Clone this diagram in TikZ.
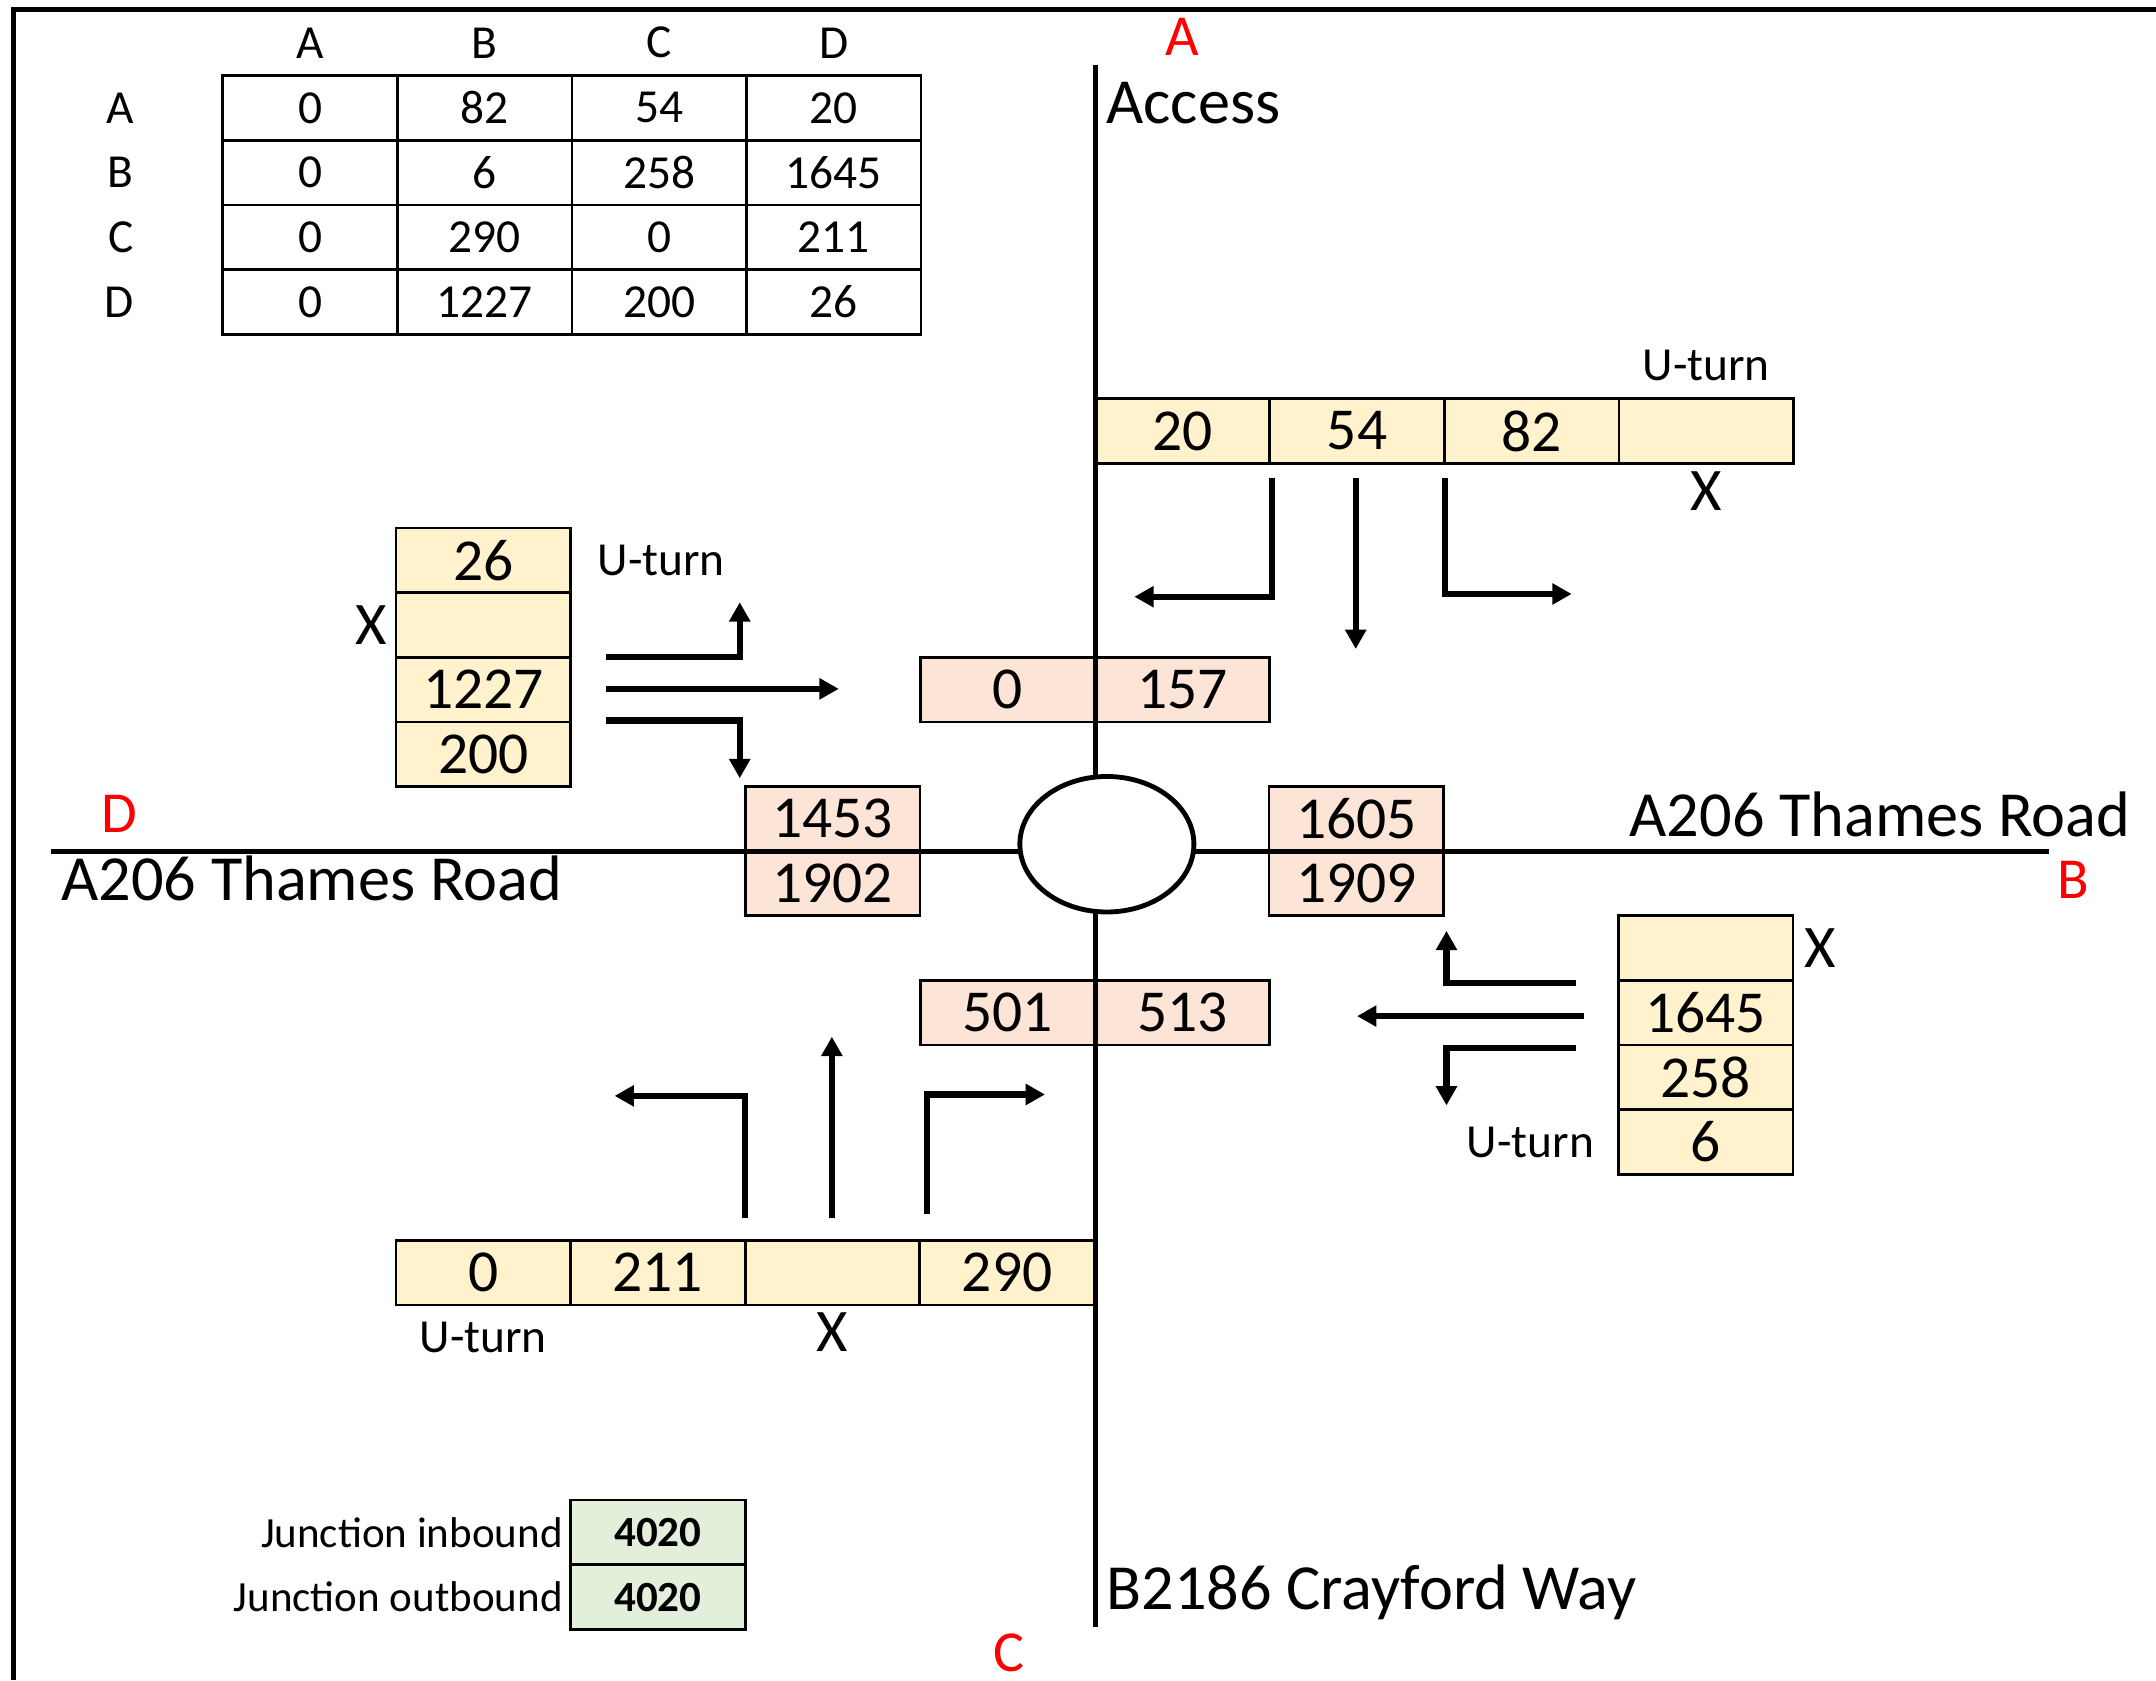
\documentclass[tikz,border=0pt]{standalone}
\usepackage{fontspec}
\setmainfont{Carlito}
\usepackage{xcolor}
\definecolor{inflow}{HTML}{FFF2CC}
\definecolor{outflow}{HTML}{FCE4D6}
\definecolor{totals}{HTML}{E2EFDA}
\definecolor{sitered}{HTML}{FF0000}
\usetikzlibrary{shapes.geometric, arrows.meta, positioning}

\begin{document}
\begin{tikzpicture}[
        x=0.01cm, y=-0.01cm,
        cell/.style={
            rectangle,
            draw=black,
            line width=0.55pt,
            minimum width=1.269cm,
            minimum height=0.47cm,
            inner sep=0pt,
            outer sep=0pt,
            font=\fontsize{9.8}{12}\selectfont
        },
        incell/.style={cell, fill=inflow, font=\fontsize{12.3}{15}\selectfont},
        outcell/.style={cell, fill=outflow, font=\fontsize{12.3}{15}\selectfont},
        totcell/.style={cell, fill=totals, font=\fontsize{8.9}{11}\selectfont\bfseries},
        note/.style={inner sep=0pt, font=\fontsize{9.8}{12}\selectfont},
        smallnote/.style={inner sep=0pt, font=\fontsize{8.9}{11}\selectfont},
        banned/.style={inner sep=0pt, font=\fontsize{12.5}{15}\selectfont},
        roadname/.style={inner sep=0pt, font=\fontsize{13.3}{16}\selectfont},
        sitename/.style={inner sep=0pt, text=sitered, font=\fontsize{12}{14}\selectfont},
        road/.style={line width=1pt},
        flow/.style={
            -{Triangle[length=4pt, width=4.2pt]},
            line width=1.25pt
        },
        roundabout/.style={
            ellipse,
            draw=black,
            fill=white,
            line width=1pt,
            inner sep=0pt,
            minimum width=1.265cm,
            minimum height=0.985cm
        }
    ]
    \useasboundingbox (0,0) rectangle (1568,1222);

    % Sheet edge
    \draw[line width=1.1pt] (10,1222) -- (10,7) -- (1568,7);

    % O-D table
    \node[cell] (tAA) at (225.5,78.5) {0};
    \node[cell, right=0pt of tAA] (tAB) {82};
    \node[cell, right=0pt of tAB] (tAC) {54};
    \node[cell, right=0pt of tAC] (tAD) {20};
    \node[cell, below=0pt of tAA] (tBA) {0};
    \node[cell, right=0pt of tBA] (tBB) {6};
    \node[cell, right=0pt of tBB] (tBC) {258};
    \node[cell, right=0pt of tBC] (tBD) {1645};
    \node[cell, below=0pt of tBA] (tCA) {0};
    \node[cell, right=0pt of tCA] (tCB) {290};
    \node[cell, right=0pt of tCB] (tCC) {0};
    \node[cell, right=0pt of tCC] (tCD) {211};
    \node[cell, below=0pt of tCA] (tDA) {0};
    \node[cell, right=0pt of tDA] (tDB) {1227};
    \node[cell, right=0pt of tDB] (tDC) {200};
    \node[cell, right=0pt of tDC] (tDD) {26};

    \node[note, above=0.12cm of tAA] (hA) {A};
    \node[note, above=0.12cm of tAB] (hB) {B};
    \node[note, above=0.12cm of tAC] (hC) {C};
    \node[note, above=0.12cm of tAD] (hD) {D};
    \node[note, left=0.64cm of tAA] (rA) {A};
    \node[note, left=0.64cm of tBA] (rB) {B};
    \node[note, left=0.64cm of tCA] (rC) {C};
    \node[note, left=0.64cm of tDA] (rD) {D};

    % Arm A (Access)
    \node[incell] (inA1) at (860,313.5) {20};
    \node[incell, right=0pt of inA1] (inA2) {54};
    \node[incell, right=0pt of inA2] (inA3) {82};
    \node[incell, right=0pt of inA3] (inA4) {};
    \node[note, above=0.12cm of inA4] (uA) {U-turn};
    \node[banned, below=0.05cm of inA4] (xA) {X};
    \node[outcell] (outA1) at (733,501.5) {0};
    \node[outcell, right=0pt of outA1] (outA2) {157};

    % Arm D (A206 west)
    \node[incell] (inD1) at (351.5,407.5) {26};
    \node[incell, below=0pt of inD1] (inD2) {};
    \node[incell, below=0pt of inD2] (inD3) {1227};
    \node[incell, below=0pt of inD3] (inD4) {200};
    \node[note, right=0.19cm of inD1] (uD) {U-turn};
    \node[banned, left=0.06cm of inD2] (xD) {X};
    \node[outcell] (outD1) at (605.5,595.5) {1453};
    \node[outcell, below=0pt of outD1] (outD2) {1902};

    % Arm B (A206 east)
    \node[outcell] (outB1) at (986.5,595.5) {1605};
    \node[outcell, below=0pt of outB1] (outB2) {1909};
    \node[incell] (inB1) at (1240.5,689.5) {};
    \node[incell, below=0pt of inB1] (inB2) {1645};
    \node[incell, below=0pt of inB2] (inB3) {258};
    \node[incell, below=0pt of inB3] (inB4) {6};
    \node[banned, right=0.08cm of inB1] (xB) {X};
    \node[note, left=0.17cm of inB4] (uB) {U-turn};

    % Arm C (Crayford Way)
    \node[outcell] (outC1) at (733,736.5) {501};
    \node[outcell, right=0pt of outC1] (outC2) {513};
    \node[incell] (inC1) at (351.5,925.5) {0};
    \node[incell, right=0pt of inC1] (inC2) {211};
    \node[incell, right=0pt of inC2] (inC3) {};
    \node[incell, right=0pt of inC3] (inC4) {290};
    \node[note, below=0.12cm of inC1] (uC) {U-turn};
    \node[banned, below=0.05cm of inC3] (xC) {X};

    % Junction totals
    \node[totcell] (totIn) at (478.5,1114.5) {4020};
    \node[totcell, below=0pt of totIn] (totOut) {4020};
    \node[smallnote, left=0.05cm of totIn] (lIn) {Junction inbound};
    \node[smallnote, left=0.05cm of totOut] (lOut) {Junction outbound};

    % Roads and roundabout
    \coordinate (roadN) at (797,47);
    \coordinate (roadS) at (797,1183);
    \coordinate (roadW) at (37,619);
    \coordinate (roadE) at (1490,619);
    \draw[road] (roadN) -- (roadS);
    \draw[road] (roadW) -- (roadE);
    \node[roundabout] (rbt) at (805,614) {};

    \node[roadname, anchor=west] (nA) at (804,75) {Access};
    \node[roadname, anchor=west] (nD) at (44,639) {A206 Thames Road};
    \node[roadname, anchor=east] (nB) at (1550,592) {A206 Thames Road};
    \node[roadname, anchor=west] (nC) at (804,1158) {B2186 Crayford Way};
    \node[sitename] (sA) at (860,27) {A};
    \node[sitename] (sD) at (87,592) {D};
    \node[sitename] (sB) at (1508,640) {B};
    \node[sitename] (sC) at (734,1202) {C};

    % Turning movements from A
    \coordinate (aLs) at (925,348);  \coordinate (aLe) at (825,434);
    \coordinate (aSs) at (986,348);  \coordinate (aSe) at (986,472);
    \coordinate (aRs) at (1051,348); \coordinate (aRe) at (1143,432);
    \draw[flow] (aLs) |- (aLe);
    \draw[flow] (aSs) -- (aSe);
    \draw[flow] (aRs) |- (aRe);

    % Turning movements from D
    \coordinate (dUs) at (441,478);  \coordinate (dUe) at (538,438);
    \coordinate (dSs) at (441,501);  \coordinate (dSe) at (610,501);
    \coordinate (dRs) at (441,524);  \coordinate (dRe) at (538,566);
    \draw[flow] (dUs) -| (dUe);
    \draw[flow] (dSs) -- (dSe);
    \draw[flow] (dRs) -| (dRe);

    % Turning movements from B
    \coordinate (bUs) at (1146,715); \coordinate (bUe) at (1052,677);
    \coordinate (bSs) at (1152,739); \coordinate (bSe) at (987,739);
    \coordinate (bLs) at (1146,762); \coordinate (bLe) at (1052,804);
    \draw[flow] (bUs) -| (bUe);
    \draw[flow] (bSs) -- (bSe);
    \draw[flow] (bLs) -| (bLe);

    % Turning movements from C
    \coordinate (cLs) at (542,886);  \coordinate (cLe) at (447,797);
    \coordinate (cSs) at (605,886);  \coordinate (cSe) at (605,754);
    \coordinate (cRs) at (674,883);  \coordinate (cRe) at (760,796);
    \draw[flow] (cLs) |- (cLe);
    \draw[flow] (cSs) -- (cSe);
    \draw[flow] (cRs) |- (cRe);

\end{tikzpicture}
\end{document}
